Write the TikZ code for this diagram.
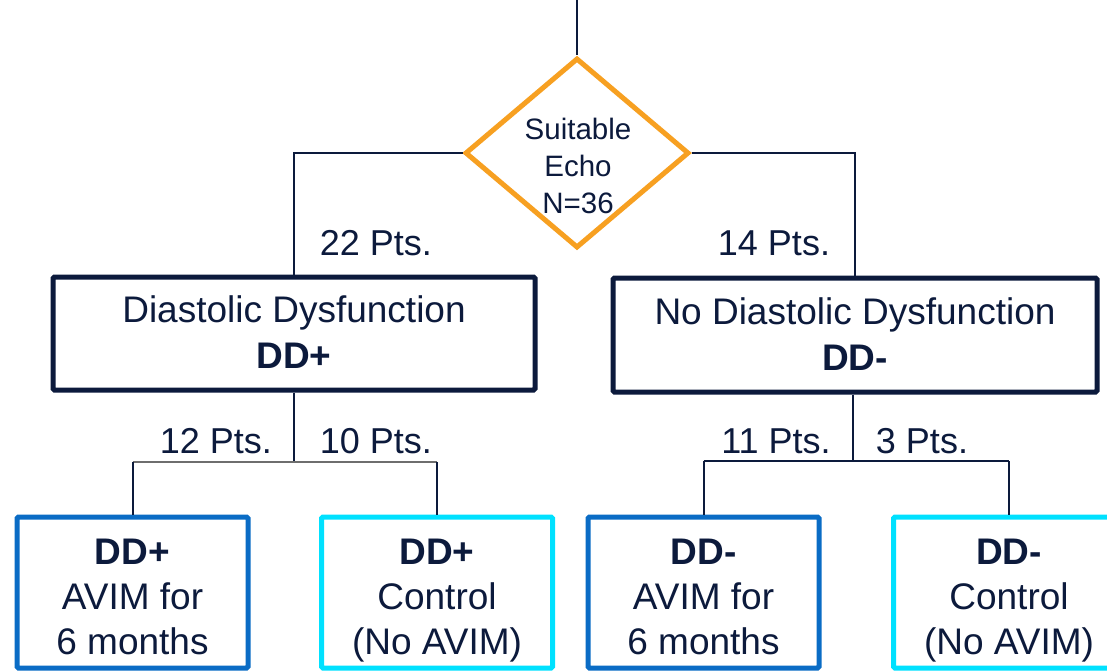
\documentclass[tikz,border=0pt]{standalone}
\usepackage{fontspec}
\setmainfont{Liberation Sans}
\usetikzlibrary{shapes.geometric}
\definecolor{navy}{HTML}{0C1A3C}
\definecolor{orng}{HTML}{F7A021}
\definecolor{bblue}{HTML}{0A6CC5}
\definecolor{ccyan}{HTML}{00E1FF}
\definecolor{lgray}{HTML}{6E6E6E}
\tikzset{
  decision/.style={draw=orng, line width=5pt, shape=diamond, inner sep=0pt,
    minimum width=224pt, minimum height=190pt, fill=white},
  dtext/.style={text=navy, align=center, inner sep=0pt, font=\fontsize{29.5}{37}\selectfont},
  bigbox/.style={draw=navy, line width=5pt, rounded corners=1.5pt, inner sep=0pt},
  bigtext/.style={text=navy, align=center, inner sep=0pt, font=\fontsize{37}{46}\selectfont},
  treatbox/.style={draw=bblue, line width=5pt, rounded corners=1.5pt, inner sep=0pt,
    minimum width=231pt, minimum height=151pt},
  ctrlbox/.style={draw=ccyan, line width=5pt, rounded corners=1.5pt, inner sep=0pt,
    minimum width=231pt, minimum height=151pt},
  btext/.style={text=navy, align=center, inner sep=0pt, font=\fontsize{37}{45}\selectfont},
  ptslabel/.style={text=navy, inner sep=0pt, anchor=base, font=\fontsize{36}{43}\selectfont},
  conn/.style={draw=navy, line width=2pt},
}
\begin{document}
\begin{tikzpicture}[x=1pt, y=-1pt]
\useasboundingbox (0,0) rectangle (1107,671);
\clip (0,0) rectangle (1107,671);
\fill[white] (0,0) rectangle (1107,671);

% decision diamond
\node[decision] (dia) at (577,153) {};
\node[dtext] (diatext) at (578,166) {Suitable\\Echo\\N=36};
\coordinate (top) at (577,0);

% group boxes
\node[bigbox, minimum width=482pt, minimum height=113pt] (box1) at (294,333.5) {};
\node[bigtext] (box1text) at (294,332.5) {Diastolic Dysfunction\\\textbf{DD+}};
\node[bigbox, minimum width=484pt, minimum height=114pt] (box2) at (855,335) {};
\node[bigtext] (box2text) at (855,334.5) {No Diastolic Dysfunction\\\textbf{DD-}};

% bottom boxes
\node[treatbox] (b1) at (132.5,592.5) {};
\node[ctrlbox]  (b2) at (437,592.5) {};
\node[treatbox] (b3) at (703.5,592.5) {};
\node[ctrlbox]  (b4) at (1009,592.5) {};
\node[btext] (b1text) at (132.5,596.5) {\textbf{DD+}\\AVIM for\\6 months};
\node[btext] (b2text) at (437,600.3) {\textbf{DD+}\\Control\\(No AVIM)};
\node[btext] (b3text) at (703.5,596.5) {\textbf{DD-}\\AVIM for\\6 months};
\node[btext] (b4text) at (1009,600.3) {\textbf{DD-}\\Control\\(No AVIM)};

% labels
\node[ptslabel] (l22) at (376,255) {22 Pts.};
\node[ptslabel] (l14) at (774,255) {14 Pts.};
\node[ptslabel] (l12) at (216,453) {12 Pts.};
\node[ptslabel] (l10) at (376,453) {10 Pts.};
\node[ptslabel] (l11) at (776,453) {11 Pts.};
\node[ptslabel] (l3)  at (922,453) {3 Pts.};

% connectors
\coordinate (j1) at (294,462);
\coordinate (j2) at (853,461);
\draw[conn] (top) -- (dia.north);
\draw[conn] (dia.west) -| (box1.north);
\draw[conn] (dia.east) -| (box2.north);
\draw[conn] (box1.south) -- (j1);
\draw[conn, draw=lgray] (b1.north |- j1) -- (b2.north |- j1);
\draw[conn] (b1.north |- j1) -- (b1.north);
\draw[conn] (b2.north |- j1) -- (b2.north);
\draw[conn] (box2.south -| j2) -- (j2);
\draw[conn] (b3.north |- j2) -- (b4.north |- j2);
\draw[conn] (b3.north |- j2) -- (b3.north);
\draw[conn] (b4.north |- j2) -- (b4.north);
\end{tikzpicture}
\end{document}
